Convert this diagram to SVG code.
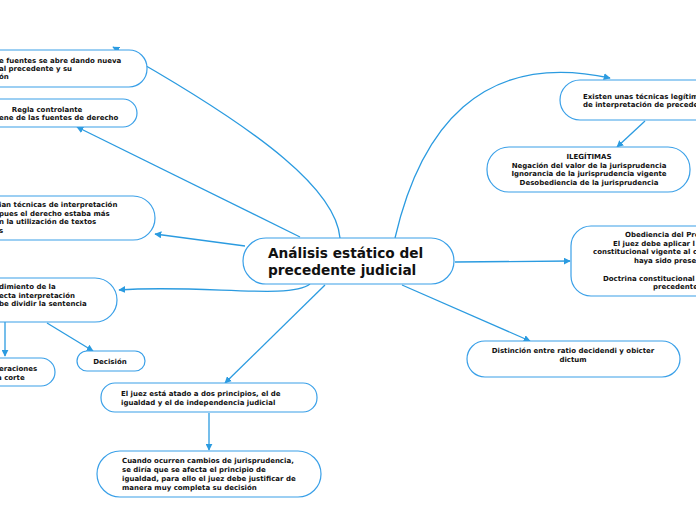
<svg xmlns="http://www.w3.org/2000/svg" width="696" height="520" viewBox="0 0 696 520">
<defs>
<marker id="ah" viewBox="0 0 10 10" refX="9" refY="5" markerWidth="7" markerHeight="7" markerUnits="userSpaceOnUse" orient="auto">
<path d="M0,0 L10,5 L0,10 z" fill="#2b9be0"/>
</marker>
<style>
.n{fill:#fff;stroke:#3aa0e8;stroke-width:1.2}
.c{fill:none;stroke:#2b9be0;stroke-width:1.3;marker-end:url(#ah)}
.t{font-family:"DejaVu Sans",sans-serif;font-weight:bold;font-size:7px;fill:#111}
.m{text-anchor:middle}
.h{font-family:"DejaVu Sans",sans-serif;font-weight:bold;font-size:13.7px;fill:#111}
</style>
</defs>
<rect width="696" height="520" fill="#fff"/>
<g id="connectors">
<path class="c" d="M340 238 C336 192,270 135,113 47"/>
<path class="c" d="M300 237 L77 127"/>
<path class="c" d="M245 246 L155 234"/>
<path class="c" d="M310 284 C290 300,200 284,119 290"/>
<path class="c" d="M5 322 L5 356"/>
<path class="c" d="M47 323 L93 351"/>
<path class="c" d="M325 285 L225 383"/>
<path class="c" d="M209 413 L209 450"/>
<path class="c" d="M395 238 C420 130,480 50,610 78"/>
<path class="c" d="M645 121 L617 147"/>
<path class="c" d="M455 262 L570 261"/>
<path class="c" d="M402 285 L530 341"/>
</g>
<g id="center">
<rect class="n" x="243" y="238" width="211" height="46" rx="23"/>
<text class="h" x="268" y="258">Análisis estático del</text>
<text class="h" x="268" y="275">precedente judicial</text>
</g>
<g id="n1">
<rect class="n" x="-30" y="50" width="177" height="37" rx="18"/>
<text class="t" x="-1" y="63">e fuentes se abre dando nueva</text>
<text class="t" x="-1" y="71"> al precedente y su</text>
<text class="t" x="-1" y="79">ón</text>
</g>
<g id="n2">
<rect class="n" x="-30" y="99" width="167" height="28" rx="14"/>
<text class="t m" x="47" y="112">Regla controlante</text>
<text class="t" x="-1" y="120">ene de las fuentes de derecho</text>
</g>
<g id="n3">
<rect class="n" x="-30" y="196" width="185" height="44" rx="22"/>
<text class="t" x="-1" y="207">ian técnicas de interpretación</text>
<text class="t" x="-1" y="215.5">pues el derecho estaba más</text>
<text class="t" x="-1" y="224">n la utilización de textos</text>
<text class="t" x="-1" y="232.5">s</text>
</g>
<g id="n4">
<rect class="n" x="-30" y="278" width="147" height="44" rx="22"/>
<text class="t" x="-1" y="289">dimiento de la</text>
<text class="t" x="-1" y="297.5">ecta interpretación</text>
<text class="t" x="-1" y="306">be dividir la sentencia</text>
</g>
<g id="n5">
<rect class="n" x="-30" y="358" width="85" height="28" rx="14"/>
<text class="t" x="-1" y="371">eraciones</text>
<text class="t" x="-3" y="379.5">a corte</text>
</g>
<g id="n6">
<rect class="n" x="77" y="351" width="68" height="20" rx="10"/>
<text class="t m" x="110" y="363.5">Decisión</text>
</g>
<g id="n7">
<rect class="n" x="101" y="383" width="216" height="29" rx="14"/>
<text class="t" x="121" y="396">El juez está atado a dos principios, el de</text>
<text class="t" x="121" y="405">igualdad y el de independencia judicial</text>
</g>
<g id="n8">
<rect class="n" x="97" y="451" width="224" height="46" rx="23"/>
<text class="t" x="122" y="463">Cuando ocurren cambios de jurisprudencia,</text>
<text class="t" x="122" y="472">se diría que se afecta el principio de</text>
<text class="t" x="122" y="481">igualdad, para ello el juez debe justificar de</text>
<text class="t" x="122" y="489.5">manera muy completa su decisión</text>
</g>
<g id="n9">
<rect class="n" x="560" y="80" width="170" height="40" rx="20"/>
<text class="t" x="583" y="99">Existen unas técnicas legítim</text>
<text class="t" x="583" y="107">de interpretación de precede</text>
</g>
<g id="n10">
<rect class="n" x="487" y="147" width="203" height="45" rx="22"/>
<text class="t m" x="589" y="159">ILEGÍTIMAS</text>
<text class="t m" x="589" y="167.5">Negación del valor de la jurisprudencia</text>
<text class="t m" x="589" y="176">Ignorancia de la jurisprudencia vigente</text>
<text class="t m" x="589" y="184.5">Desobediencia de la jurisprudencia</text>
</g>
<g id="n11">
<rect class="n" x="571" y="226" width="160" height="70" rx="20"/>
<text class="t" x="625" y="237">Obediencia del Pre</text>
<text class="t" x="613" y="246">El juez debe aplicar l</text>
<text class="t" x="593" y="254">constitucional vigente al c</text>
<text class="t" x="634" y="263">haya sido prese</text>
<text class="t" x="603" y="281">Doctrina constitucional</text>
<text class="t" x="653" y="289">precedente</text>
</g>
<g id="n12">
<rect class="n" x="467" y="341" width="213" height="36" rx="18"/>
<text class="t m" x="573" y="353">Distinción entre ratio decidendi y obicter</text>
<text class="t m" x="573" y="361.5">dictum</text>
</g>
</svg>
